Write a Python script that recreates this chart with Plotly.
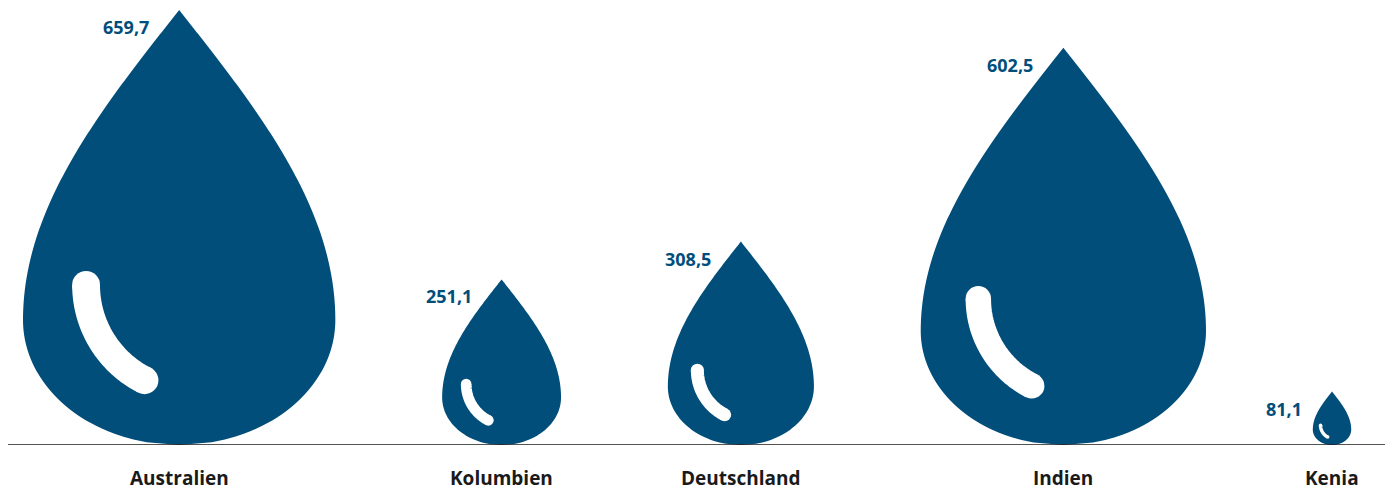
import numpy as np
import plotly.graph_objects as go

# ---- data ----
countries = ["Australien", "Kolumbien", "Deutschland", "Indien", "Kenia"]
values = [659.7, 251.1, 308.5, 602.5, 81.1]
value_labels = ["659,7", "251,1", "308,5", "602,5", "81,1"]

# ---- style / layout constants ----
DROP_COLOR = "#024e7b"
TEXT_COLOR = "#1a1a1a"
PAGE_OFF = 8                 # default body margin of the html page
W, H = 1393 - PAGE_OFF, 491 - PAGE_OFF
BASE_PX = 445 - PAGE_OFF     # baseline pixel row inside the figure
PX_PER_UNIT = 435 / 659.7
HALF_W = 0.359               # max half-width relative to height
T_WIDE = 0.713               # relative position (from top) of max width
LEFT0 = (23 - PAGE_OFF) / PX_PER_UNIT   # left edge of first drop (units)
GAP = 162                    # gap between drops (units)

# drop centres packed left to right from their widths
centers = []
cursor = LEFT0
for v in values:
    w = 2 * HALF_W * v
    centers.append(cursor + w / 2)
    cursor += w + GAP


def drop_outline(cx, h, n=160):
    t = np.linspace(0, 1, n)
    hw = np.where(
        t < T_WIDE,
        HALF_W * h * np.sin(np.pi / 2 * t / T_WIDE),
        HALF_W * h * np.sqrt(np.clip(1 - ((t - T_WIDE) / (1 - T_WIDE)) ** 2, 0, 1)),
    )
    y = h * (1 - t)
    xs = np.concatenate([cx + hw, (cx - hw)[::-1]])
    ys = np.concatenate([y, y[::-1]])
    return xs, ys


def highlight(cx, h, n=60):
    acx = cx + 0.032 * h
    acy = 0.368 * h
    r = 0.246 * h
    ang = np.radians(np.linspace(180, 243, n))
    return acx + r * np.cos(ang), acy + r * np.sin(ang)


fig = go.Figure()
for name, v, cx in zip(countries, values, centers):
    xs, ys = drop_outline(cx, v)
    fig.add_trace(go.Scatter(x=xs, y=ys, mode="lines", fill="toself",
                             fillcolor=DROP_COLOR,
                             line=dict(width=0, color=DROP_COLOR, simplify=False),
                             hoverinfo="skip", showlegend=False, name=name))
    hx, hy = highlight(cx, v)
    lw = 0.064 * v * PX_PER_UNIT
    fig.add_trace(go.Scatter(x=hx, y=hy, mode="lines",
                             line=dict(width=lw, color="white", simplify=False),
                             hoverinfo="skip", showlegend=False))
    fig.add_trace(go.Scatter(x=[hx[0], hx[-1]], y=[hy[0], hy[-1]], mode="markers",
                             marker=dict(size=lw, color="white", line=dict(width=0)),
                             hoverinfo="skip", showlegend=False))

annotations = []
for name, v, lab, cx in zip(countries, values, value_labels, centers):
    annotations.append(dict(x=cx, y=v, text=lab, showarrow=False, xanchor="right",
                            yanchor="middle", xshift=-28, yshift=-17,
                            font=dict(family="Open Sans", size=18, color=DROP_COLOR, weight="bold")))
    annotations.append(dict(x=cx, y=0, text=name, showarrow=False, xanchor="center",
                            yanchor="middle", yshift=-33,
                            font=dict(family="Open Sans", size=19, color=TEXT_COLOR, weight="bold")))

fig.update_layout(
    width=W, height=H,
    margin=dict(l=0, r=0, t=0, b=H - BASE_PX),
    paper_bgcolor="white", plot_bgcolor="white",
    xaxis=dict(range=[0, W / PX_PER_UNIT], visible=False, fixedrange=True),
    yaxis=dict(range=[0, BASE_PX / PX_PER_UNIT], visible=False, fixedrange=True),
    annotations=annotations,
    shapes=[dict(type="line", xref="paper", yref="y", x0=0, x1=(1387 - PAGE_OFF) / W, y0=0, y1=0,
                 line=dict(color="#1a1a1a", width=1.5))],
)

fig.write_html("out.html")
